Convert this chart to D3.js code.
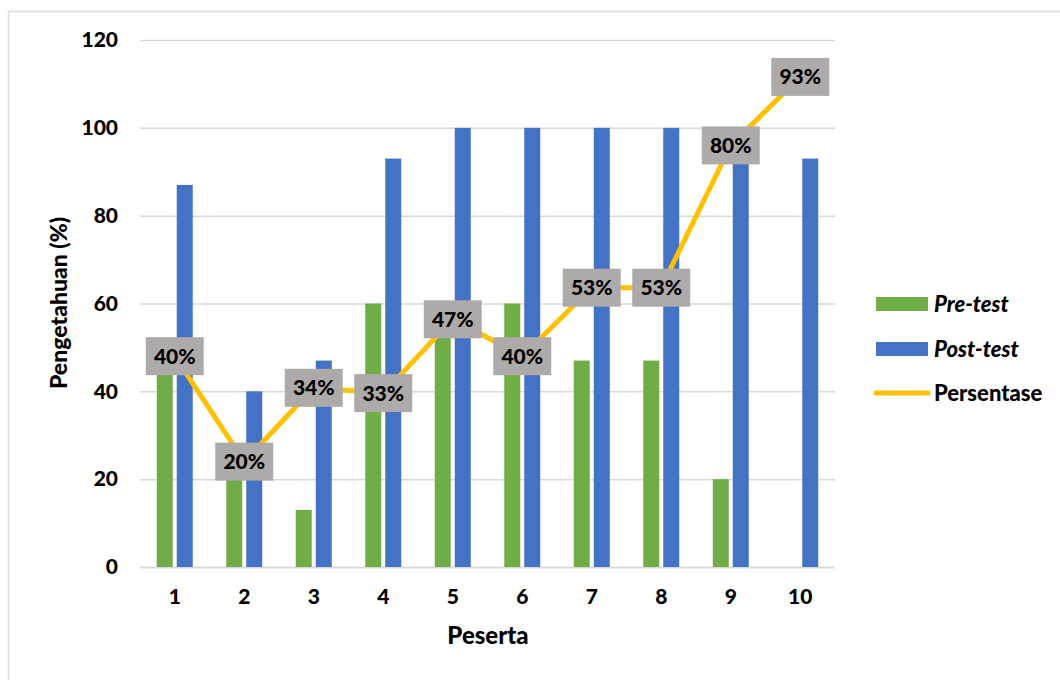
<!DOCTYPE html>
<html>
<head>
<meta charset="utf-8">
<script src="https://cdn.jsdelivr.net/npm/d3@7/dist/d3.min.js"></script>
<style>
  html, body { margin: 0; padding: 0; background: #fff; }
  svg { display: block; font-family: Lato, "Open Sans", sans-serif; }
</style>
</head>
<body>
<svg id="chart" width="1060" height="680"></svg>
<script>
// Participants
const categories = ["1", "2", "3", "4", "5", "6", "7", "8", "9", "10"];
// Knowledge scores (%)
const preTest  = [47, 20, 13, 60, 53, 60, 47, 47, 20, 0];
const postTest = [87, 40, 47, 93, 100, 100, 100, 100, 100, 93];
// Improvement percentage (secondary scale, 0–100)
const persentase = [40, 20, 34, 33, 47, 40, 53, 53, 80, 93];
const yTicks = [0, 20, 40, 60, 80, 100, 120];

const svg = d3.select("#chart");
const plot = { left: 140, right: 835, top: 40, bottom: 567 };
const heavy = 900;

// frame
svg.append("rect")
  .attr("x", 8.5).attr("y", 11.5)
  .attr("width", 1060).attr("height", 680)
  .attr("fill", "#fff").attr("stroke", "#d9d9d9").attr("stroke-width", 1.5);

const x = d3.scaleBand().domain(categories).range([plot.left, plot.right]);
const y = d3.scaleLinear().domain([0, 120]).range([plot.bottom, plot.top]);
const y2 = d3.scaleLinear().domain([0, 100]).range([plot.bottom, plot.top]);

// gridlines
svg.append("g").selectAll("line").data(yTicks).join("line")
  .attr("x1", plot.left).attr("x2", plot.right)
  .attr("y1", d => y(d) + 0.5).attr("y2", d => y(d) + 0.5)
  .attr("stroke", "#d9d9d9").attr("stroke-width", 1.5);

// y axis labels
const yAxis = svg.append("g").attr("transform", `translate(${plot.left - 22},0)`)
  .call(d3.axisLeft(y).tickValues(yTicks).tickSize(0).tickPadding(0));
yAxis.select(".domain").remove();
yAxis.selectAll("text")
  .attr("font-family", "Lato, sans-serif")
  .attr("font-size", 21).attr("font-weight", heavy).attr("fill", "#000");

// x axis labels
const xAxis = svg.append("g").attr("transform", `translate(0,${plot.bottom + 22})`)
  .call(d3.axisBottom(x).tickSize(0).tickPadding(0));
xAxis.select(".domain").remove();
xAxis.selectAll("text")
  .attr("font-family", "Lato, sans-serif")
  .attr("font-size", 21).attr("font-weight", heavy).attr("fill", "#000");

// axis line at zero
svg.append("line")
  .attr("x1", plot.left).attr("x2", plot.right)
  .attr("y1", plot.bottom + 0.5).attr("y2", plot.bottom + 0.5)
  .attr("stroke", "#d9d9d9").attr("stroke-width", 1.5);

// bars
const barW = 16;
const cx = d => x(d) + x.bandwidth() / 2;
svg.append("g").selectAll("rect").data(categories).join("rect")
  .attr("x", (d) => cx(d) - barW - 2)
  .attr("y", (d, i) => y(preTest[i]))
  .attr("width", barW)
  .attr("height", (d, i) => y(0) - y(preTest[i]))
  .attr("fill", "#70ad47");
svg.append("g").selectAll("rect").data(categories).join("rect")
  .attr("x", (d) => cx(d) + 2)
  .attr("y", (d, i) => y(postTest[i]))
  .attr("width", barW)
  .attr("height", (d, i) => y(0) - y(postTest[i]))
  .attr("fill", "#4472c4");

// line
const line = d3.line()
  .x((d, i) => cx(categories[i]))
  .y(d => y2(d));
svg.append("path").datum(persentase)
  .attr("d", line)
  .attr("fill", "none")
  .attr("stroke", "#ffc000")
  .attr("stroke-width", 5)
  .attr("stroke-linejoin", "round");

// data labels
const labels = svg.append("g").selectAll("g").data(persentase).join("g")
  .attr("transform", (d, i) => `translate(${cx(categories[i])},${y2(d)})`);
labels.append("rect")
  .attr("x", -29).attr("y", -19).attr("width", 58).attr("height", 38)
  .attr("fill", "#aeaaaa");
labels.append("text")
  .attr("text-anchor", "middle").attr("dy", "0.36em")
  .attr("font-size", 21).attr("font-weight", heavy).attr("fill", "#000")
  .text(d => d + "%");

// axis titles
svg.append("text")
  .attr("transform", "translate(67,303) rotate(-90)")
  .attr("text-anchor", "middle")
  .attr("font-size", 23).attr("font-weight", heavy)
  .text("Pengetahuan (%)");
svg.append("text")
  .attr("x", 488).attr("y", 644)
  .attr("text-anchor", "middle")
  .attr("font-size", 24).attr("font-weight", heavy)
  .text("Peserta");

// legend
const legend = svg.append("g");
const legendItems = [
  { name: "Pre-test", color: "#70ad47", type: "rect", italic: true, y: 304 },
  { name: "Post-test", color: "#4472c4", type: "rect", italic: true, y: 349 },
  { name: "Persentase", color: "#ffc000", type: "line", italic: false, y: 393 }
];
legendItems.forEach(it => {
  if (it.type === "rect") {
    legend.append("rect").attr("x", 876).attr("y", it.y - 7)
      .attr("width", 52).attr("height", 14).attr("fill", it.color);
  } else {
    legend.append("line").attr("x1", 876).attr("x2", 928)
      .attr("y1", it.y).attr("y2", it.y)
      .attr("stroke", it.color).attr("stroke-width", 5).attr("stroke-linecap", "round");
  }
  legend.append("text")
    .attr("x", 934).attr("y", it.y).attr("dy", "0.36em")
    .attr("font-size", 22).attr("font-weight", heavy)
    .attr("font-style", it.italic ? "italic" : "normal")
    .text(it.name);
});
</script>
</body>
</html>
